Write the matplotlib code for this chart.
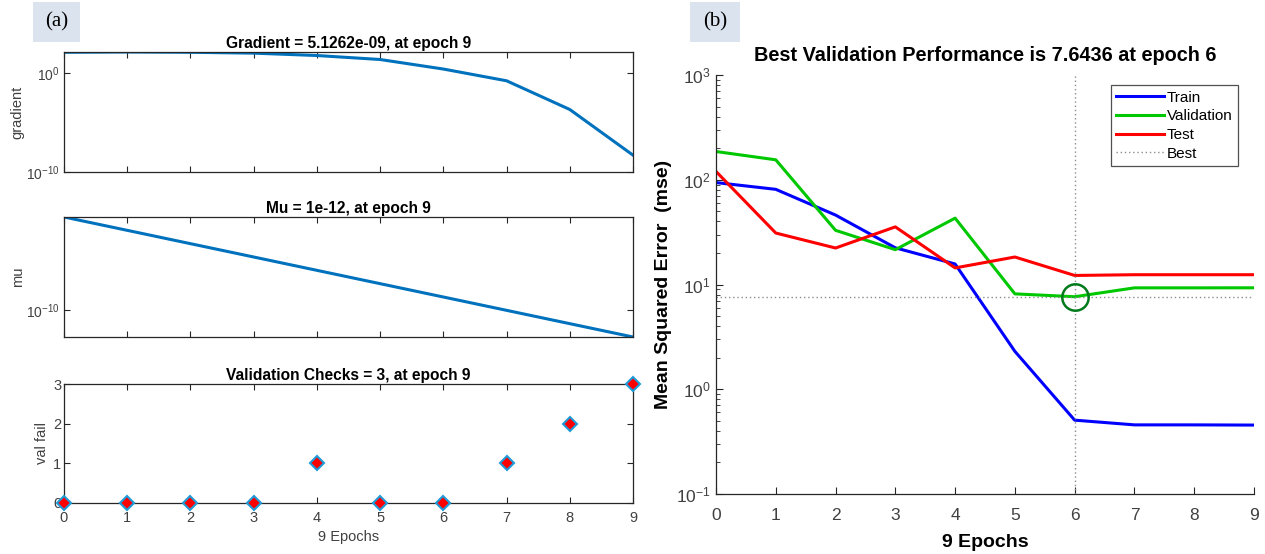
import matplotlib
matplotlib.use("Agg")
import matplotlib.pyplot as plt
import numpy as np
from matplotlib.ticker import LogLocator, NullFormatter, FixedLocator

plt.rcParams['font.family'] = ['Liberation Sans', 'DejaVu Sans']

# ---- data ----
epochs = [0, 1, 2, 3, 4, 5, 6, 7, 8, 9]
gradient = [140, 150, 140, 115, 66, 26, 2.8, 0.18, 2.2e-4, 5.1262e-9]
mu = [1e-3, 1e-4, 1e-5, 1e-6, 1e-7, 1e-8, 1e-9, 1e-10, 1e-11, 1e-12]
val_fail = [0, 0, 0, 0, 1, 0, 0, 1, 2, 3]

train_mse = [94, 81, 46, 22.4, 15.7, 2.3, 0.507, 0.457, 0.457, 0.455]
valid_mse = [186, 155, 32.9, 21.5, 43, 8.14, 7.6436, 9.29, 9.29, 9.3]
test_mse = [120, 31, 22.3, 35.5, 14.4, 18.3, 12.2, 12.4, 12.4, 12.4]
best_epoch = 6
best_value = 7.6436

W, H = 1265, 554
fig = plt.figure(figsize=(W / 100, H / 100), dpi=100)


def box(l, t, r, b):
    return [l / W, 1 - b / H, (r - l) / W, (b - t) / H]


tick_grey = '#404040'
line_blue = '#0072BD'


def style_matlab(ax, box_on=True):
    for s in ax.spines.values():
        s.set_color('#262626')
        s.set_linewidth(0.9)
    if not box_on:
        ax.spines['top'].set_visible(False)
        ax.spines['right'].set_visible(False)
    ax.tick_params(which='both', direction='in', top=box_on, right=box_on,
                   colors='#262626', labelcolor=tick_grey)


# ---- (a) gradient ----
ax1 = fig.add_axes(box(64, 52, 633, 172))
ax1.semilogy(epochs, gradient, color=line_blue, lw=2.2)
ax1.set_xlim(0, 9)
ax1.set_ylim(1e-10, max(gradient))
ax1.yaxis.set_major_locator(FixedLocator([1e-10, 1e0]))
ax1.yaxis.set_minor_locator(FixedLocator([]))
ax1.set_xticks(epochs)
ax1.set_xticklabels([])
ax1.set_ylabel('gradient', fontsize=10.5, color=tick_grey, labelpad=1)
ax1.set_title('Gradient = 5.1262e-09, at epoch 9', fontsize=11.2, fontweight='bold', pad=3)
style_matlab(ax1)
ax1.tick_params(labelsize=10, length=4, pad=3)

# ---- (a) mu ----
ax2 = fig.add_axes(box(64, 217, 633, 337))
ax2.semilogy(epochs, mu, color=line_blue, lw=2.2)
ax2.set_xlim(0, 9)
ax2.set_ylim(min(mu), max(mu))
ax2.yaxis.set_major_locator(FixedLocator([1e-10]))
ax2.yaxis.set_minor_locator(FixedLocator([]))
ax2.set_xticks(epochs)
ax2.set_xticklabels([])
ax2.set_ylabel('mu', fontsize=10.5, color=tick_grey, labelpad=1)
ax2.set_title('Mu = 1e-12, at epoch 9', fontsize=11.2, fontweight='bold', pad=3)
style_matlab(ax2)
ax2.tick_params(labelsize=10, length=4, pad=3)

# ---- (a) validation checks ----
ax3 = fig.add_axes(box(64, 384, 633, 503))
ax3.plot(epochs, val_fail, linestyle='none', marker='D', markersize=7.5,
         markerfacecolor='#ff0000', markeredgecolor='#1f9bd8', markeredgewidth=1.5,
         clip_on=False, zorder=5)
ax3.set_xlim(0, 9)
ax3.set_ylim(0, 3)
ax3.set_xticks(epochs)
ax3.set_yticks([0, 1, 2, 3])
ax3.set_ylabel('val fail', fontsize=10.5, color=tick_grey, labelpad=3)
ax3.set_xlabel('9 Epochs', fontsize=10.5, color=tick_grey, labelpad=3)
ax3.set_title('Validation Checks = 3, at epoch 9', fontsize=11.2, fontweight='bold', pad=3)
style_matlab(ax3)
ax3.tick_params(labelsize=10.5, length=4)
ax3.tick_params(axis='x', pad=6)
ax3.tick_params(axis='y', pad=2)

# ---- (b) performance ----
ax4 = fig.add_axes(box(716, 75, 1254, 494))
ax4.semilogy(epochs, train_mse, color='#0000ff', lw=2.2, label='Train')
ax4.semilogy(epochs, valid_mse, color='#00c800', lw=2.2, label='Validation')
ax4.semilogy(epochs, test_mse, color='#ff0000', lw=2.2, label='Test')
ax4.axhline(best_value, color='#8c8c8c', lw=1.0, ls=(0, (1, 2)), label='Best')
ax4.axvline(best_epoch, color='#8c8c8c', lw=1.0, ls=(0, (1, 2)))
ax4.plot([best_epoch], [best_value], marker='o', markersize=19, markerfacecolor='none',
         markeredgecolor='#007a1a', markeredgewidth=1.8, linestyle='none')
ax4.set_xlim(0, 9)
ax4.set_ylim(0.1, 1000)
ax4.set_xticks(epochs)
ax4.yaxis.set_major_locator(LogLocator(base=10, numticks=10))
ax4.yaxis.set_minor_locator(LogLocator(base=10, subs=np.arange(2, 10), numticks=20))
ax4.yaxis.set_minor_formatter(NullFormatter())
ax4.set_xlabel('9 Epochs', fontsize=14, fontweight='bold', labelpad=8)
ax4.set_ylabel('Mean Squared Error  (mse)', fontsize=14, fontweight='bold', labelpad=3)
ax4.set_title('Best Validation Performance is 7.6436 at epoch 6', fontsize=14.3,
              fontweight='bold', pad=10)
style_matlab(ax4, box_on=False)
ax4.tick_params(which='major', labelsize=12.5, length=5)
ax4.tick_params(axis='x', pad=10)
ax4.tick_params(axis='y', pad=4)
ax4.tick_params(which='minor', length=3)
leg = ax4.legend(loc='upper right', bbox_to_anchor=(0.97, 0.975), fontsize=11,
                 frameon=True, fancybox=False, handlelength=3.1, handletextpad=0.2,
                 borderpad=0.35, labelspacing=0.3, borderaxespad=0)
leg.get_frame().set_edgecolor('#262626')
leg.get_frame().set_linewidth(0.9)

# ---- panel letters ----
for (l, t, r, b), lab in [((33, 2, 80, 42), '(a)'), ((690, 2, 740, 42), '(b)')]:
    fig.patches.append(plt.Rectangle((l / W, 1 - b / H), (r - l) / W, (b - t) / H,
                                     transform=fig.transFigure, facecolor='#dbe3ee',
                                     edgecolor='none', zorder=0))
    fig.text((l + r) / 2 / W, 1 - (t + b) / 2 / H, lab, ha='center', va='center',
             fontsize=15, family='Liberation Serif')

fig.savefig('out.png', dpi=100)
